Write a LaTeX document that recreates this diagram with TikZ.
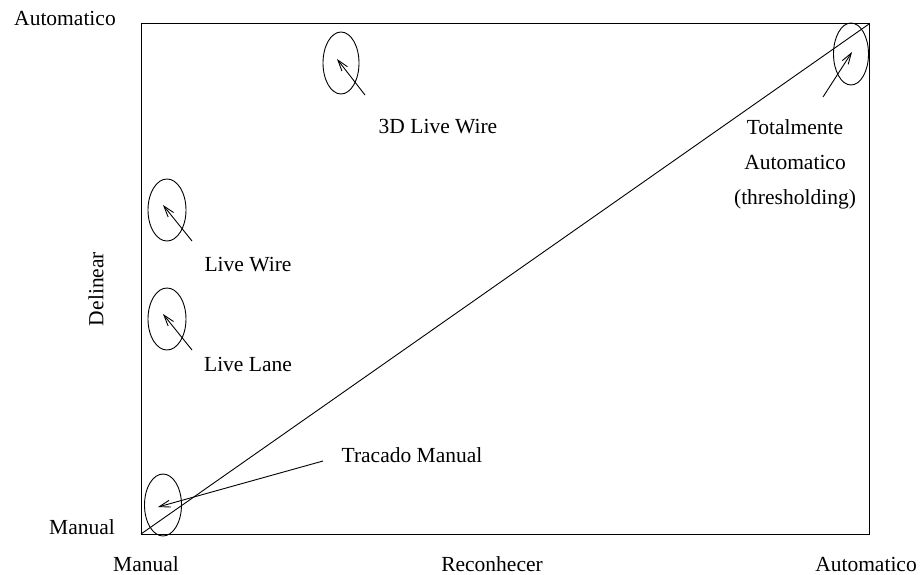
\documentclass[tikz,border=0pt]{standalone}
\usepackage{fontspec}
\setmainfont{Liberation Serif}
\usetikzlibrary{shapes.geometric,arrows.meta}
\begin{document}
\begin{tikzpicture}[x=1pt,y=-1pt,
  every node/.style={font=\fontsize{21.5}{24}\selectfont, inner sep=0pt},
  ring/.style={draw, ellipse, line width=0.9pt, minimum width=#1, minimum height=62pt},
  ring/.default=37pt,
  pointer/.style={draw, line width=0.9pt, -{Straight Barb[length=11pt,width=7pt,line width=0.9pt]}},
  plain/.style={draw, line width=0.9pt}]
\useasboundingbox (0,0) rectangle (920,575);

% chart frame
\coordinate (bl) at (141,534);
\coordinate (tr) at (869,24);
\draw[line width=1pt] (bl) rectangle (tr);
\draw[plain] (bl) -- (tr);

% axis labels
\node (ytop) at (65,18) {Automatico};
\node (ybot) at (82,527) {Manual};
\node[rotate=90] (ytitle) at (96,289) {Delinear};
\node (xleft) at (146,564) {Manual};
\node (xtitle) at (492,564) {Reconhecer};
\node (xright) at (866,564) {Automatico};

% method markers
\node[ring=36pt] (e3d) at (341,63) {};
\node[ring=38pt] (elw) at (167,210) {};
\node[ring=38pt] (ell) at (167,319) {};
\node[ring=37pt] (etm) at (163,505) {};
\node[ring=35pt] (eauto) at (851,54) {};

% method labels
\node (t3d) at (438,127) {3D Live Wire};
\node (tlw) at (248,265) {Live Wire};
\node (tll) at (248,364) {Live Lane};
\node (ttm) at (412,455) {Tracado Manual};
\node[align=center, font=\fontsize{21.5}{35}\selectfont] (tauto) at (795,164) {Totalmente\\Automatico\\(thresholding)};

% pointers into the markers
\coordinate (a3d) at (365,95);   \coordinate (h3d) at (337,59);
\coordinate (alw) at (192,241);  \coordinate (hlw) at (163,205);
\coordinate (all) at (192,350);  \coordinate (hll) at (163,314);
\coordinate (atm) at (323,461);  \coordinate (htm) at (158,507);
\coordinate (aau) at (823,97);   \coordinate (hau) at (852,52);
\draw[pointer] (a3d) -- (h3d);
\draw[pointer] (alw) -- (hlw);
\draw[pointer] (all) -- (hll);
\draw[pointer] (atm) -- (htm);
\draw[pointer] (aau) -- (hau);
\end{tikzpicture}
\end{document}
